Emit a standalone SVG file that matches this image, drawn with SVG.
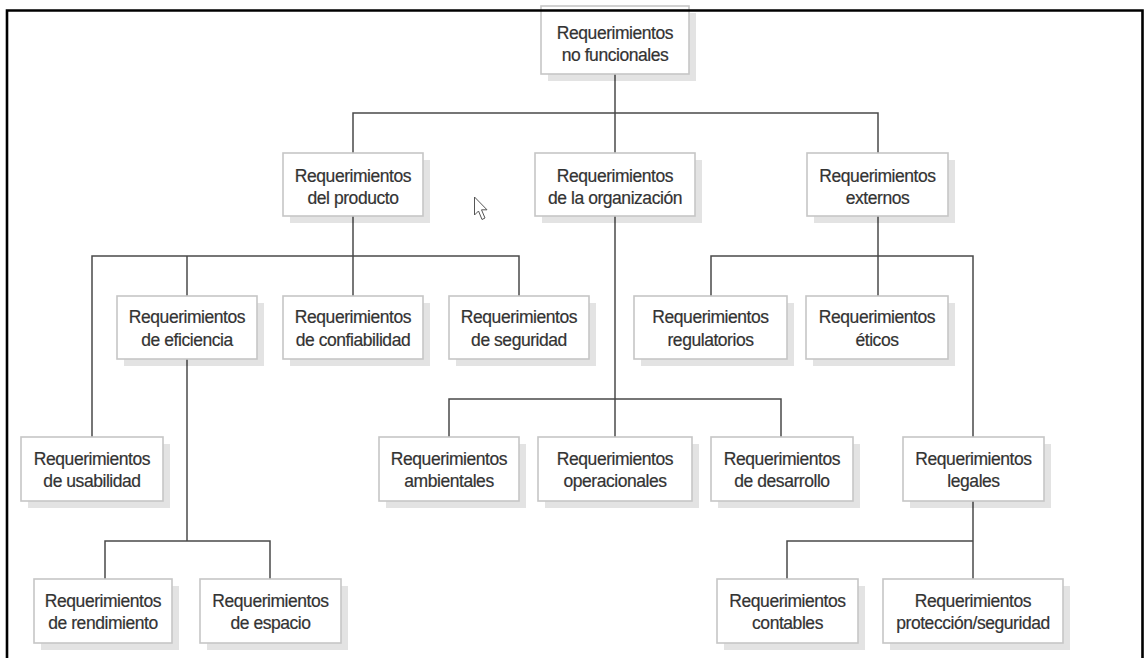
<svg xmlns="http://www.w3.org/2000/svg" width="1144" height="658" viewBox="0 0 1144 658">
  <style>
    .shadow { fill: #000; fill-opacity: 0.11; }
    .box { fill: #fff; stroke: #c6c6c6; stroke-width: 1.6; }
    .lbl { font-family: "Liberation Sans", Arial, sans-serif; font-size: 17.5px; letter-spacing: -0.45px; fill: #333; stroke: #333; stroke-width: 0.2; text-anchor: middle; }
    .wire { fill: none; stroke: #4a4a4a; stroke-width: 1.5; }
    .frame { fill: none; stroke: #000; stroke-width: 2.6; }
  </style>
  <rect x="0" y="0" width="1144" height="658" fill="#fff"/>

  <!-- tree connectors -->
  <g id="connectors" class="wire">
    <path d="M615,74 V153"/>
    <path d="M353,153 V113 H878 V153"/>
    <path d="M353,216 V256"/>
    <path d="M92,437 V256 H519 V296"/>
    <path d="M187,256 V296"/>
    <path d="M353,256 V296"/>
    <path d="M187,359 V541"/>
    <path d="M105,579 V541 H270 V579"/>
    <path d="M615,216 V437"/>
    <path d="M449,437 V399 H781 V437"/>
    <path d="M878,216 V296"/>
    <path d="M711,296 V256 H973 V437"/>
    <path d="M973,501 V579"/>
    <path d="M787,579 V541 H973"/>
  </g>

  <g id="n-root">
    <rect class="shadow" x="548" y="13" width="148" height="68"/>
    <rect class="box" x="541" y="6" width="148" height="68"/>
    <text class="lbl" x="615" y="38.5">Requerimientos</text>
    <text class="lbl" x="615" y="61">no funcionales</text>
  </g>

  <g id="n-producto">
    <rect class="shadow" x="290" y="160" width="140" height="63"/>
    <rect class="box" x="283" y="153" width="140" height="63"/>
    <text class="lbl" x="353" y="181.5">Requerimientos</text>
    <text class="lbl" x="353" y="204">del producto</text>
  </g>
  <g id="n-organizacion">
    <rect class="shadow" x="542" y="160" width="160" height="63"/>
    <rect class="box" x="535" y="153" width="160" height="63"/>
    <text class="lbl" x="615" y="181.5">Requerimientos</text>
    <text class="lbl" x="615" y="204">de la organización</text>
  </g>
  <g id="n-externos">
    <rect class="shadow" x="814" y="160" width="141" height="63"/>
    <rect class="box" x="807" y="153" width="141" height="63"/>
    <text class="lbl" x="877.5" y="181.5">Requerimientos</text>
    <text class="lbl" x="877.5" y="204">externos</text>
  </g>

  <g id="n-eficiencia">
    <rect class="shadow" x="124" y="303" width="140" height="63"/>
    <rect class="box" x="117" y="296" width="140" height="63"/>
    <text class="lbl" x="187" y="323">Requerimientos</text>
    <text class="lbl" x="187" y="345.5">de eficiencia</text>
  </g>
  <g id="n-confiabilidad">
    <rect class="shadow" x="290" y="303" width="140" height="63"/>
    <rect class="box" x="283" y="296" width="140" height="63"/>
    <text class="lbl" x="353" y="323">Requerimientos</text>
    <text class="lbl" x="353" y="345.5">de confiabilidad</text>
  </g>
  <g id="n-seguridad">
    <rect class="shadow" x="456" y="303" width="140" height="63"/>
    <rect class="box" x="449" y="296" width="140" height="63"/>
    <text class="lbl" x="519" y="323">Requerimientos</text>
    <text class="lbl" x="519" y="345.5">de seguridad</text>
  </g>
  <g id="n-regulatorios">
    <rect class="shadow" x="641" y="303" width="153" height="63"/>
    <rect class="box" x="634" y="296" width="153" height="63"/>
    <text class="lbl" x="710.5" y="323">Requerimientos</text>
    <text class="lbl" x="710.5" y="345.5">regulatorios</text>
  </g>
  <g id="n-eticos">
    <rect class="shadow" x="813" y="303" width="142" height="63"/>
    <rect class="box" x="806" y="296" width="142" height="63"/>
    <text class="lbl" x="877" y="323">Requerimientos</text>
    <text class="lbl" x="877" y="345.5">éticos</text>
  </g>

  <g id="n-usabilidad">
    <rect class="shadow" x="28" y="444" width="142" height="64"/>
    <rect class="box" x="21" y="437" width="142" height="64"/>
    <text class="lbl" x="92" y="464.5">Requerimientos</text>
    <text class="lbl" x="92" y="487">de usabilidad</text>
  </g>
  <g id="n-ambientales">
    <rect class="shadow" x="386" y="444" width="140" height="64"/>
    <rect class="box" x="379" y="437" width="140" height="64"/>
    <text class="lbl" x="449" y="464.5">Requerimientos</text>
    <text class="lbl" x="449" y="487">ambientales</text>
  </g>
  <g id="n-operacionales">
    <rect class="shadow" x="545" y="444" width="154" height="64"/>
    <rect class="box" x="538" y="437" width="154" height="64"/>
    <text class="lbl" x="615" y="464.5">Requerimientos</text>
    <text class="lbl" x="615" y="487">operacionales</text>
  </g>
  <g id="n-desarrollo">
    <rect class="shadow" x="718" y="444" width="142" height="64"/>
    <rect class="box" x="711" y="437" width="142" height="64"/>
    <text class="lbl" x="782" y="464.5">Requerimientos</text>
    <text class="lbl" x="782" y="487">de desarrollo</text>
  </g>
  <g id="n-legales">
    <rect class="shadow" x="910" y="444" width="141" height="64"/>
    <rect class="box" x="903" y="437" width="141" height="64"/>
    <text class="lbl" x="973.5" y="464.5">Requerimientos</text>
    <text class="lbl" x="973.5" y="487">legales</text>
  </g>

  <g id="n-rendimiento">
    <rect class="shadow" x="41" y="586" width="138" height="64"/>
    <rect class="box" x="34" y="579" width="138" height="64"/>
    <text class="lbl" x="103" y="606.5">Requerimientos</text>
    <text class="lbl" x="103" y="629">de rendimiento</text>
  </g>
  <g id="n-espacio">
    <rect class="shadow" x="207" y="586" width="141" height="64"/>
    <rect class="box" x="200" y="579" width="141" height="64"/>
    <text class="lbl" x="270.5" y="606.5">Requerimientos</text>
    <text class="lbl" x="270.5" y="629">de espacio</text>
  </g>
  <g id="n-contables">
    <rect class="shadow" x="724" y="586" width="141" height="64"/>
    <rect class="box" x="717" y="579" width="141" height="64"/>
    <text class="lbl" x="787.5" y="606.5">Requerimientos</text>
    <text class="lbl" x="787.5" y="629">contables</text>
  </g>
  <g id="n-proteccion">
    <rect class="shadow" x="890" y="586" width="180" height="64"/>
    <rect class="box" x="883" y="579" width="180" height="64"/>
    <text class="lbl" x="973" y="606.5">Requerimientos</text>
    <text class="lbl" x="973" y="629">protección/seguridad</text>
  </g>

  <!-- mouse pointer -->
  <path d="M474.5,197 V215 L478.5,211 L482,219.5 L485,218 L481.5,209.8 L487,209.8 Z" fill="#fff" stroke="#555" stroke-width="1"/>

  <!-- window frame -->
  <path class="frame" d="M7,658 V10.5 H1142.5 V658"/>
</svg>
